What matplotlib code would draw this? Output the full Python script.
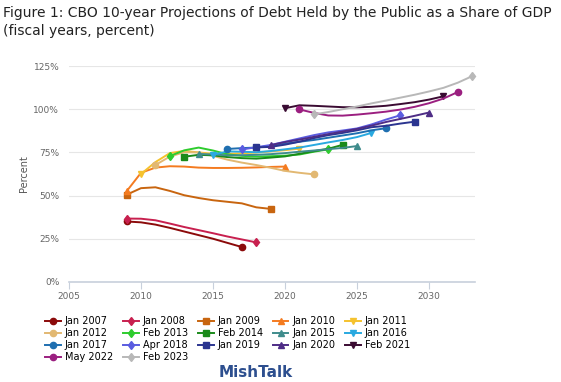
import matplotlib
matplotlib.use('Agg')
import matplotlib.pyplot as plt
from matplotlib.lines import Line2D

# CBO vintages: first projected year, values (percent of GDP), style
names = ["Jan 2007", "Jan 2008", "Jan 2009", "Jan 2010", "Jan 2011",
         "Jan 2012", "Feb 2013", "Feb 2014", "Jan 2015", "Jan 2016",
         "Jan 2017", "Apr 2018", "Jan 2019", "Jan 2020", "Feb 2021",
         "May 2022", "Feb 2023"]
start_years = [2009, 2009, 2009, 2009, 2010, 2011, 2012, 2013, 2014, 2015,
               2016, 2017, 2018, 2019, 2020, 2021, 2022]

jan2007 = [35.0, 34.5, 33.2, 31.3, 29.2, 27.1, 25.0, 22.6, 20.2]
jan2008 = [36.7, 36.6, 35.7, 33.8, 31.8, 30.0, 28.2, 26.3, 24.6, 22.9]
jan2009 = [50.5, 54.3, 54.8, 52.7, 50.2, 48.6, 47.3, 46.4, 45.5, 43.2, 42.3]
jan2010 = [52.5, 63.2, 66.2, 67.0, 66.8, 66.2, 66.0, 66.0, 66.1, 66.3, 66.6, 66.8]
jan2011 = [62.5, 69.4, 74.6, 75.9, 75.0, 74.2, 74.1, 74.5, 74.9, 75.6, 76.3, 77.2]
jan2012 = [67.7, 72.6, 75.1, 75.0, 73.0, 70.8, 69.1, 67.7, 66.1, 64.3, 63.2, 62.3]
feb2013 = [72.9, 76.2, 77.8, 76.1, 73.9, 73.0, 72.6, 72.8, 73.1, 73.8, 75.4, 76.8]
feb2014 = [72.5, 73.6, 73.3, 72.3, 71.7, 71.4, 72.0, 72.7, 74.2, 75.7, 77.1, 79.4]
jan2015 = [74.1, 73.8, 73.3, 73.4, 73.6, 74.0, 74.6, 75.4, 76.1, 76.9, 77.6, 78.7]
jan2016 = [73.6, 75.6, 75.4, 75.1, 75.8, 76.8, 77.8, 79.3, 80.8, 82.2, 83.9, 86.3]
jan2017 = [77.0, 77.5, 77.8, 78.8, 80.1, 81.2, 82.2, 83.5, 84.8, 86.1, 87.8, 89.0]
apr2018 = [76.7, 78.0, 79.3, 81.2, 83.1, 85.0, 86.6, 87.7, 88.9, 91.2, 94.0, 96.5]
jan2019 = [77.9, 78.2, 79.5, 81.2, 83.3, 85.0, 86.3, 87.8, 89.6, 90.4, 91.7, 92.8]
jan2020 = [79.2, 81.0, 82.4, 84.0, 85.6, 87.1, 88.6, 90.5, 92.6, 94.4, 96.2, 98.1]
feb2021 = [100.6, 102.3, 102.0, 101.6, 101.2, 101.1, 101.4, 102.0, 103.0, 104.1, 105.6, 107.5]
may2022 = [99.9, 97.9, 96.4, 96.3, 96.9, 97.7, 98.6, 99.8, 101.4, 103.5, 106.2, 110.0]
feb2023 = [97.0, 98.4, 100.0, 101.6, 103.4, 105.0, 106.7, 108.4, 110.3, 112.4, 115.4, 119.2]

series = [jan2007, jan2008, jan2009, jan2010, jan2011, jan2012, feb2013,
          feb2014, jan2015, jan2016, jan2017, apr2018, jan2019, jan2020,
          feb2021, may2022, feb2023]

colors = ["#8b0a0a", "#c8204f", "#c8650f", "#f47b20", "#f5c22e", "#e2b872",
          "#2ecc2e", "#1a8a1a", "#3f8c8c", "#29a9e0", "#1f6fb0", "#5a5ce0",
          "#2b3590", "#4e2d86", "#3a0b32", "#9b1f80", "#b8b8b8"]
markers = ["o", "d", "s", "^", "v", "o", "d", "s", "^", "v",
           "o", "d", "s", "^", "v", "o", "d"]

yticks = [0, 25, 50, 75, 100, 125]
xticks = [2005, 2010, 2015, 2020, 2025, 2030]

fig = plt.figure(figsize=(5.61, 3.82), dpi=100)
ax = fig.add_axes([0.123, 0.262, 0.724, 0.565])

handles = []
for name, y0, vals, c, m in zip(names, start_years, series, colors, markers):
    yrs = list(range(y0, y0 + len(vals)))
    ax.plot(yrs, vals, color=c, lw=1.4, marker=m, ms=4.5,
            markevery=[0, len(vals) - 1], clip_on=False, zorder=3)
    handles.append(Line2D([], [], color=c, lw=1.4, marker=m, ms=4.5))

ax.set_xlim(2005, 2033.2)
ax.set_ylim(0, 125)
ax.set_yticks(yticks)
ax.set_yticklabels([f"{v}%" for v in yticks])
ax.set_xticks(xticks)
ax.grid(axis="y", color="#e6e6e6", lw=0.8)
ax.set_axisbelow(True)
for s in ["top", "right", "left"]:
    ax.spines[s].set_visible(False)
ax.spines["bottom"].set_color("#c8d0dc")
ax.spines["bottom"].set_linewidth(1.2)
ax.tick_params(axis="y", length=0, labelsize=6.5, colors="#666666", pad=7)
ax.tick_params(axis="x", length=5, color="#c8d0dc", labelsize=6.5,
               colors="#666666", pad=2)
for lbl in ax.get_xticklabels():
    lbl.set_color("#666666")
ax.set_ylabel("Percent", fontsize=7, color="#555555", labelpad=3)

# legend fills row by row in the original; matplotlib fills columns
order = [0, 5, 10, 15, 1, 6, 11, 16, 2, 7, 12, 3, 8, 13, 4, 9, 14]
leg = fig.legend([handles[i] for i in order], [names[i] for i in order],
                 ncol=5, loc="upper left", bbox_to_anchor=(0.072, 0.185),
                 frameon=False, fontsize=7, handlelength=1.6,
                 handletextpad=0.4, columnspacing=1.05, labelspacing=0.2,
                 borderpad=0)

fig.text(0.006, 0.967, "Figure 1: CBO 10-year Projections of Debt Held by the Public as a Share of GDP",
         fontsize=10, color="#222222", va="center", ha="left")
fig.text(0.006, 0.918, "(fiscal years, percent)", fontsize=10,
         color="#222222", va="center", ha="left")
fig.text(0.455, 0.004, "MishTalk", fontsize=11, fontweight="bold",
         color="#2d4f8f", ha="center", va="bottom")

plt.savefig("out.png", dpi=100)
